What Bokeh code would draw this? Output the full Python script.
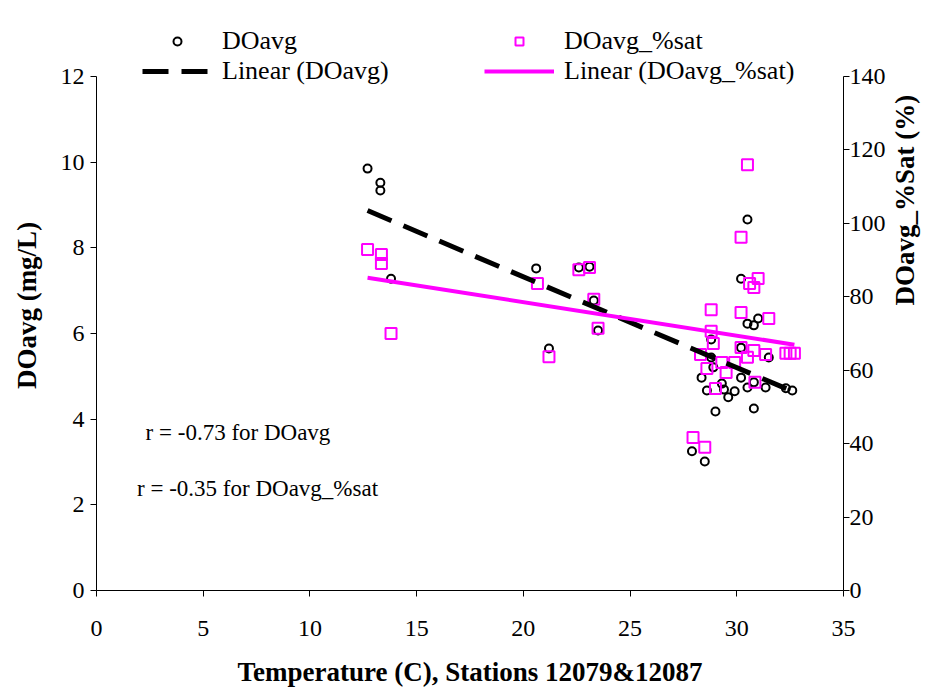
import math
import numpy as np
from bokeh.plotting import figure
from bokeh.models import Range1d, LinearAxis, Legend, LegendItem, Label, FixedTicker
from bokeh.embed import file_html
from bokeh.resources import INLINE

# DOavg (mg/L) vs temperature
do_temp = [12.7, 13.3, 13.3, 13.8, 20.6, 21.2, 22.6, 23.1, 23.3, 23.5,
           27.9, 28.5, 28.35, 28.6, 28.8, 28.8, 28.9, 29.0, 29.3, 29.4,
           29.6, 29.9, 30.2, 30.2, 30.5, 30.5, 30.8, 31.0, 30.8, 30.8,
           31.35, 31.5, 30.5, 30.2, 32.3, 32.6]
do_val = [9.85, 9.52, 9.34, 7.28, 7.52, 5.65, 7.54, 7.56, 6.77, 6.07,
          3.25, 3.01, 4.97, 4.67, 5.86, 5.44, 5.21, 4.18, 4.83, 4.69,
          4.51, 4.65, 5.67, 4.97, 4.74, 6.23, 6.19, 6.35, 4.86, 4.25,
          4.74, 5.44, 8.66, 7.28, 4.72, 4.67]

# DOavg_%sat vs temperature
sat_temp = [12.7, 13.35, 13.35, 13.8, 20.66, 21.2, 22.6, 23.1, 23.3, 23.5,
            30.5, 30.2, 31.0, 30.6, 30.8, 28.8, 30.2, 31.5, 28.8, 28.9,
            28.3, 30.2, 30.8, 30.5, 31.35, 29.3, 29.9, 28.6, 29.5, 30.85,
            29.0, 27.95, 28.5, 32.3, 32.5, 32.7]
sat_val = [92.9, 91.5, 89.1, 70.0, 83.6, 63.7, 87.4, 88.0, 79.3, 71.4,
           116.0, 96.2, 85.0, 83.6, 82.5, 76.5, 75.7, 74.1, 70.6, 67.3,
           64.3, 66.2, 65.4, 63.5, 64.3, 62.1, 62.1, 60.5, 59.4, 56.7,
           55.0, 41.7, 39.0, 64.6, 64.6, 64.6]

x_ticks = [0, 5, 10, 15, 20, 25, 30, 35]
left_ticks = [0, 2, 4, 6, 8, 10, 12]
right_ticks = [0, 20, 40, 60, 80, 100, 120, 140]
r_texts = ["r = -0.73 for DOavg", "r = -0.35 for DOavg_%sat"]

FONT = "Liberation Serif"
MAG = "#FF00FF"

# axes run 0..12 and 0..140; the frame extends above them to hold the legend
TOP_EXTRA = 13.308 / 12.0
p = figure(width=940, height=694, output_backend="svg", toolbar_location=None,
           x_range=Range1d(0, 35), y_range=Range1d(0, 12 * TOP_EXTRA),
           min_border_left=96, min_border_right=97, min_border_top=20,
           min_border_bottom=104)
p.extra_y_ranges = {"sat": Range1d(0, 140 * TOP_EXTRA)}
p.outline_line_color = None
p.xgrid.visible = False
p.ygrid.visible = False
p.background_fill_color = "white"
p.border_fill_color = "white"

right_axis = LinearAxis(y_range_name="sat")
p.add_layout(right_axis, "right")

def style_axis(ax, ticks, title):
    ax.ticker = FixedTicker(ticks=ticks)
    ax.bounds = (ticks[0], ticks[-1])
    ax.axis_label = title
    ax.axis_label_text_font = FONT
    ax.axis_label_text_font_style = "bold"
    ax.axis_label_text_font_size = "27px"
    ax.axis_label_text_color = "black"
    ax.major_label_text_font = FONT
    ax.major_label_text_font_size = "24px"
    ax.major_label_text_color = "black"
    ax.major_tick_in = 0
    ax.major_tick_out = 6
    ax.minor_tick_in = 0
    ax.minor_tick_out = 0
    ax.axis_line_color = "black"
    ax.major_tick_line_color = "black"

style_axis(p.xaxis[0], x_ticks, "Temperature (C), Stations 12079&12087")
style_axis(p.yaxis[0], left_ticks, "DOavg (mg/L)")
style_axis(right_axis, right_ticks, "DOavg_%Sat (%)")
p.xaxis[0].major_label_standoff = 24
p.xaxis[0].axis_label_standoff = 18
p.yaxis[0].major_label_standoff = 6
p.yaxis[0].axis_label_standoff = 16
right_axis.major_label_standoff = 0
right_axis.axis_label_standoff = 16
right_axis.axis_label_orientation = math.pi / 2

# trend lines (least squares)
tx = np.array([min(do_temp), max(do_temp)])
c1 = np.polyfit(do_temp, do_val, 1)
c2 = np.polyfit(sat_temp, sat_val, 1)
tx2 = np.array([min(sat_temp), max(sat_temp)])

r_do = p.scatter(do_temp, do_val, marker="circle", size=8, fill_color=None,
                 line_color="black", line_width=2)
r_sat = p.scatter(sat_temp, sat_val, marker="square", size=11, fill_color=None,
                  line_color=MAG, line_width=2, y_range_name="sat")
r_l1 = p.line(tx, np.polyval(c1, tx), line_color="black", line_width=5,
              line_dash="26 13")
r_l2 = p.line(tx2, np.polyval(c2, tx2), line_color=MAG, line_width=4,
              y_range_name="sat")

def make_legend(items, loc):
    lg = Legend(items=items, orientation="vertical", location=loc)
    lg.padding = 0
    lg.margin = 0
    lg.spacing = -14
    lg.border_line_color = None
    lg.background_fill_alpha = 0
    lg.glyph_width = 70
    lg.glyph_height = 20
    lg.label_standoff = 10
    lg.label_text_font = FONT
    lg.label_text_font_size = "26px"
    lg.label_text_color = "black"
    return lg

p.add_layout(make_legend([
    LegendItem(label="DOavg", renderers=[r_do]),
    LegendItem(label="Linear (DOavg)", renderers=[r_l1]),
], (46, 504)), "center")
p.add_layout(make_legend([
    LegendItem(label="DOavg_%sat", renderers=[r_sat]),
    LegendItem(label="Linear (DOavg_%sat)", renderers=[r_l2]),
], (388, 504)), "center")

p.add_layout(Label(x=2.3, y=3.69, text=r_texts[0], text_font=FONT,
                   text_font_size="23px", text_baseline="middle",
                   text_color="black"))
p.add_layout(Label(x=1.9, y=2.38, text=r_texts[1], text_font=FONT,
                   text_font_size="23px", text_baseline="middle",
                   text_color="black"))

open("out.html", "w").write(file_html(p, INLINE))
